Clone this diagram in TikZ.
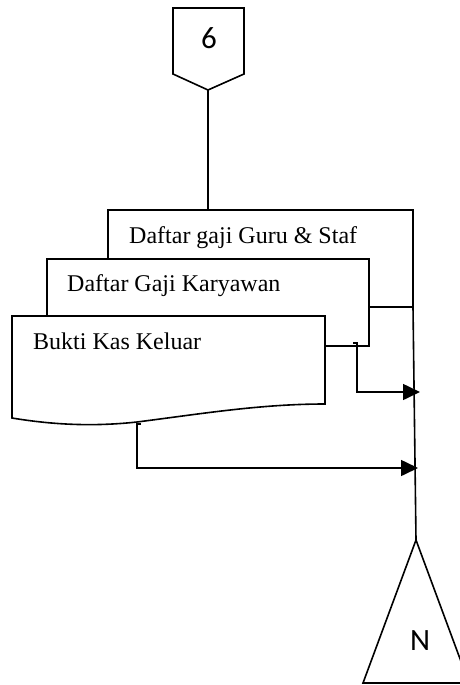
\documentclass[tikz,border=0pt]{standalone}
\usepackage{fontspec}
\setmainfont{Liberation Serif}
\newfontfamily\labelsans{Carlito}
\usetikzlibrary{arrows.meta}
\tikzset{> = {Triangle[length=17pt, width=16pt]}}
\tikzset{
  line/.style = {line width=1.6pt},
  doc/.style = {line width=1.6pt, fill=white},
  doctext/.style = {anchor=base west, inner sep=0pt, font=\fontsize{24}{28}\selectfont},
  pagelabel/.style = {inner sep=0pt, font=\labelsans\fontsize{31}{32}\selectfont}
}

\begin{document}
\begin{tikzpicture}[x=1pt, y=-1pt]
\useasboundingbox (0,0) rectangle (459,685);
% off-page connector at the top
\draw[doc] (173,8) -- (244,8) -- (244,74) -- (208,90) -- (173,74) -- cycle;
\node[pagelabel] (K6) at (209,38) {6};
\coordinate (K6out) at (208,90);
% the three documents, back to front
\draw[doc] (369,307) -- (413,307) -- (413,210) -- (108,210) -- (108,259) -- (369,259) -- cycle;
\coordinate (D1top) at (208,210);
\node[doctext] (D1) at (129,243) {Daftar gaji Guru \& Staf};
\draw[doc] (325,346) -- (369,346) -- (369,259) -- (47,259) -- (47,316) -- (325,316) -- cycle;
\node[doctext] (D2) at (67,291) {Daftar Gaji Karyawan};
\draw[doc] (12,316) -- (325,316) -- (325,404)
  .. controls (260,404) and (200,414) .. (137,422)
  .. controls (100,426) and (60,426) .. (12,418) -- cycle;
\node[doctext] (D3) at (33,349) {Bukti Kas Keluar};
% off-page connector at the bottom
\draw[line] (416,540) -- (469,683) -- (363,683) -- cycle;
\node[pagelabel] (N) at (420,641) {N};
\coordinate (Nin) at (416,540);
% flow lines
\coordinate (D1out) at (413,307);
\coordinate (J1) at (413,392);
\coordinate (J2) at (413,468);
\coordinate (S1) at (353,343);
\coordinate (S2) at (141,424);
\draw[line] (K6out) -- (D1top);
\draw[line] (D1out) -- (Nin);
\draw[line, ->] (S1) -- (357,343) -- (357,392) -- ([xshift=7pt]J1);
\draw[line, ->] (S2) -- (137,424) -- (137,468) -- ([xshift=5pt]J2);
\end{tikzpicture}
\end{document}
